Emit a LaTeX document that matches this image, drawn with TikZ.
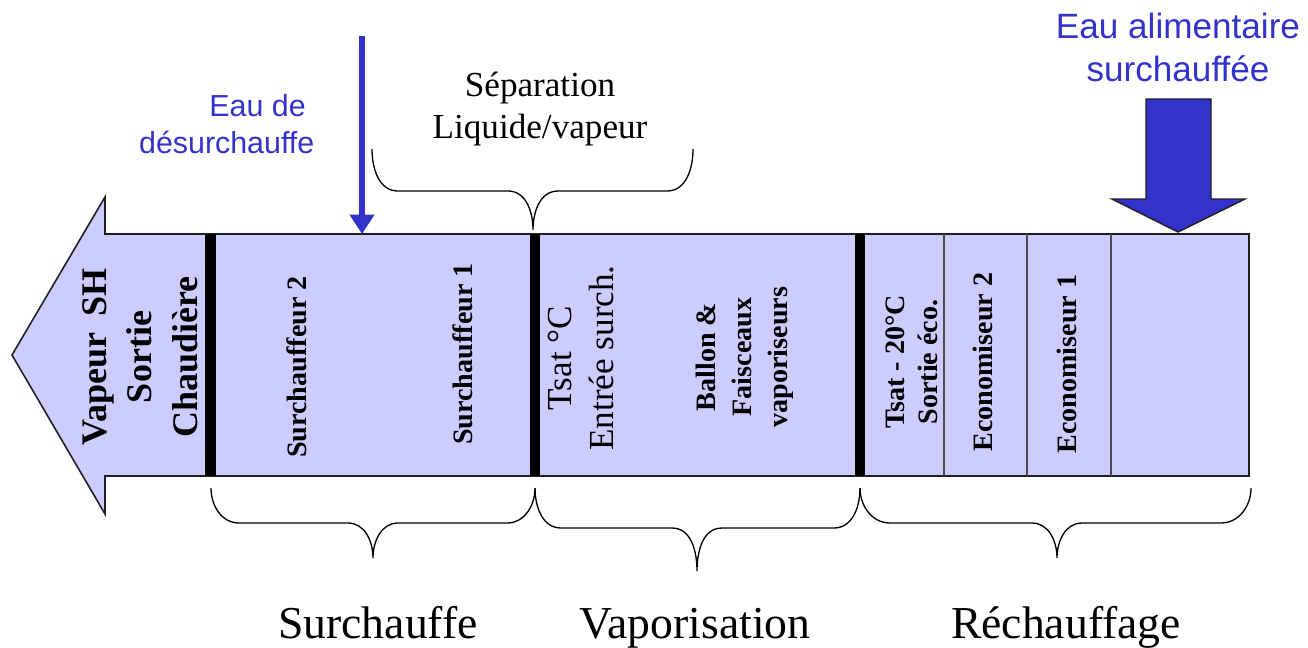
\documentclass[tikz,border=0pt]{standalone}
\usepackage{fontspec}
\setmainfont{Liberation Serif}
\newfontfamily\arialfont{Liberation Sans}
\usepackage{tikz}
\usetikzlibrary{arrows.meta}
\definecolor{BoxFill}{HTML}{CCCCFF}
\definecolor{FlowBlue}{HTML}{3333CC}
\definecolor{Ink}{HTML}{1F1F1F}
\tikzset{
  every picture/.style={line width=0.8pt},
  bodyline/.style={draw=Ink, fill=BoxFill, line width=0.9pt},
  wall/.style={fill=black, draw=none},
  divline/.style={draw=Ink!80, line width=0.6pt},
  vlabel/.style={rotate=90, align=center, inner sep=0pt},
  blabel/.style={vlabel, font=\bfseries\fontsize{16}{18.5}\selectfont},
  bluetext/.style={text=FlowBlue, align=center, inner sep=0pt},
  toplabel/.style={align=center, inner sep=0pt, font=\fontsize{20}{24}\selectfont},
  bracecurve/.style={draw=black, line width=0.75pt},
  phaselabel/.style={font=\fontsize{26}{30}\selectfont, inner sep=0pt, anchor=base},
  sprayarrow/.style={draw=FlowBlue, line width=3.4pt, -{Triangle[length=11pt,width=13.5pt]}},
  feedarrow/.style={fill=FlowBlue, draw=Ink, line width=0.8pt}
}
\begin{document}
\begin{tikzpicture}[x=0.02cm, y=-0.02cm]
  \useasboundingbox (0,0) rectangle (1308,647);

  \draw[bodyline] (1249,234) -- (105,234) -- (105,197) -- (12,355)
    -- (105,514) -- (105,476) -- (1249,476) -- cycle;

  \fill[wall] (205,234) rectangle (216,476);
  \fill[wall] (530,234) rectangle (540,476);
  \fill[wall] (855,234) rectangle (865,476);
  \draw[divline] (944,234) -- (944,476);
  \draw[divline] (1027,234) -- (1027,476);
  \draw[divline] (1111,234) -- (1111,476);

  \node[vlabel, font=\bfseries\fontsize{20.5}{26}\selectfont] (outlet) at (140,357)
    {Vapeur\hspace{0.45em}SH\\Sortie\\Chaudière};
  \node[blabel] (sh2) at (297,367) {Surchauffeur 2};
  \node[blabel] (sh1) at (463,354) {Surchauffeur 1};
  \node[vlabel, font=\fontsize{20}{24}\selectfont] (tsat) at (581,358)
    {Tsat °C\\Entrée surch.};
  \node[blabel, font=\bfseries\fontsize{16}{20.5}\selectfont] (ballon) at (745,357)
    {Ballon \&\\Faisceaux\\vaporiseurs};
  \node[blabel] (tsatlow) at (912,362) {Tsat - 20°C\\Sortie éco.};
  \node[blabel] (eco2) at (983,362) {Economiseur 2};
  \node[blabel] (eco1) at (1067,364) {Economiseur 1};

  \coordinate (sprayin) at (362,36);
  \coordinate (sprayout) at (362,234);
  \draw[sprayarrow] (sprayin) -- (sprayout);
  \node[bluetext, align=right, anchor=east, font=\arialfont\fontsize{17.3}{21}\selectfont]
    (spraylabel) at (315,124) {Eau de\hspace*{0.28em}\\désurchauffe};

  \coordinate (sepleft) at (372,149);
  \coordinate (sepright) at (693,149);
  \coordinate (septip) at (533,230);
  \draw[bracecurve] (sepleft) to[out=-90,in=180] (398,191) -- (508,191)
    to[out=0,in=90] (septip) to[out=90,in=180] (558,191) -- (667,191)
    to[out=0,in=-90] (sepright);
  \node[toplabel] (seplabel) at (540,109) {Séparation\\Liquide/vapeur};

  \draw[feedarrow] (1146,99) -- (1211,99) -- (1211,199) -- (1245,199)
    -- (1178,232) -- (1112,199) -- (1146,199) -- cycle;
  \node[bluetext, font=\arialfont\fontsize{20}{24.5}\selectfont] (feedlabel) at (1178,47)
    {Eau alimentaire\\surchauffée};

  \coordinate (b0) at (211,488);
  \coordinate (b1) at (535,488);
  \coordinate (b2) at (860,488);
  \coordinate (b3) at (1251,488);
  \coordinate (t1) at (373,558);
  \coordinate (t2) at (697,571);
  \coordinate (t3) at (1057,558);
  \draw[bracecurve] (b0) to[out=-90,in=180] (239,523) -- (348,523)
    to[out=0,in=90] (t1) to[out=90,in=180] (398,523) -- (507,523)
    to[out=0,in=-90] (b1);
  \draw[bracecurve] (b1) to[out=-90,in=180] (561,528) -- (672,528)
    to[out=0,in=90] (t2) to[out=90,in=180] (722,528) -- (834,528)
    to[out=0,in=-90] (b2);
  \draw[bracecurve] (b2) to[out=-90,in=180] (890,523) -- (1032,523)
    to[out=0,in=90] (t3) to[out=90,in=180] (1082,523) -- (1221,523)
    to[out=0,in=-90] (b3);

  \node[phaselabel] (surch) at (378,638) {Surchauffe};
  \node[phaselabel] (vapo) at (695,638) {Vaporisation};
  \node[phaselabel] (rech) at (1066,638) {Réchauffage};
\end{tikzpicture}
\end{document}
